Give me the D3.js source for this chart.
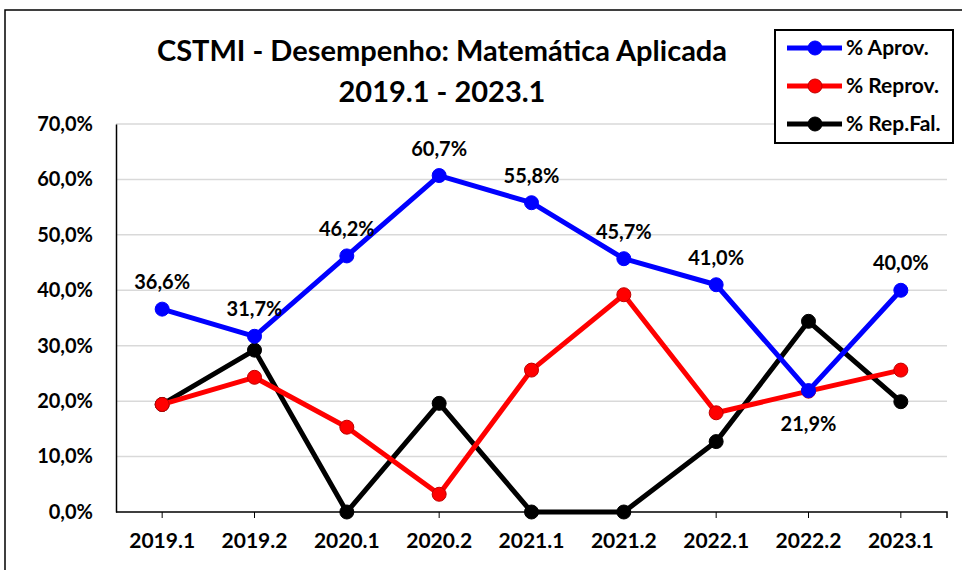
<!DOCTYPE html>
<html>
<head>
<meta charset="utf-8">
<script src="https://cdn.jsdelivr.net/npm/d3@7"></script>
<style>
  body { margin: 0; background: #fff; }
  svg text { font-family: Lato, "Open Sans", sans-serif; font-weight: bold; fill: #000; }
</style>
</head>
<body>
<div id="chart"></div>
<script>
var periods = ["2019.1", "2019.2", "2020.1", "2020.2", "2021.1", "2021.2", "2022.1", "2022.2", "2023.1"];
var aprov   = [36.6, 31.7, 46.2, 60.7, 55.8, 45.7, 41.0, 21.9, 40.0];
var reprov  = [19.4, 24.3, 15.3, 3.2, 25.6, 39.2, 17.9, 21.8, 25.6];
var repFal  = [19.4, 29.2, 0, 19.6, 0, 0, 12.7, 34.4, 19.9];
var yTicks  = [0, 10, 20, 30, 40, 50, 60, 70];
var titleLines = ["CSTMI - Desempenho: Matemática Aplicada", "2019.1 - 2023.1"];

var series = [
  {name: "% Rep.Fal.", values: repFal, color: "#000000", edge: "#000000"},
  {name: "% Reprov.", values: reprov, color: "#ff0000", edge: "#c00000"},
  {name: "% Aprov.", values: aprov, color: "#0000ff", edge: "#0000ff"}
];

var W = 962, H = 570,
    margin = {top: 124, right: 15, bottom: 58, left: 116},
    width = 947 - margin.left,
    height = 512 - margin.top;

var fmt = function(v) { return v.toFixed(1).replace(".", ",") + "%"; };

var svg = d3.select("#chart").append("svg")
    .attr("width", W).attr("height", H);

// chart frame
svg.append("rect")
    .attr("x", 5).attr("y", 10).attr("width", W + 10).attr("height", H + 10)
    .attr("fill", "#fff").attr("stroke", "#000").attr("stroke-width", 1.5);

var x = d3.scaleBand().domain(periods).range([0, width]);
var y = d3.scaleLinear().domain([0, 70]).range([height, 0]);
var cx = function(i) { return x(periods[i]) + x.bandwidth() / 2; };

var g = svg.append("g").attr("transform", "translate(" + margin.left + "," + margin.top + ")");

// gridlines
g.append("g").selectAll("line").data(yTicks.slice(1)).join("line")
    .attr("x1", 0).attr("x2", width)
    .attr("y1", d => y(d)).attr("y2", d => y(d))
    .attr("stroke", "#d9d9d9").attr("stroke-width", 1.5);

// y axis
var yAxis = d3.axisLeft(y).tickValues(yTicks).tickSize(0).tickPadding(23).tickFormat(d => fmt(d));
g.append("g").call(yAxis)
  .call(s => s.select(".domain").attr("stroke", "#000").attr("stroke-width", 1.5))
  .selectAll("text").style("font-size", "20px");

// x axis
var xAxis = d3.axisBottom(x).tickSize(6).tickPadding(15);
var xg = g.append("g").attr("transform", "translate(0," + height + ")").call(xAxis);
xg.select(".domain").attr("d", "M0,0H" + width + "V6").attr("stroke", "#000").attr("stroke-width", 1.5);
xg.selectAll("line").attr("stroke", "#000").attr("stroke-width", 1);
xg.selectAll("text").style("font-size", "21px");

// lines
var line = d3.line().x((d, i) => cx(i)).y(d => y(d));
series.forEach(function(s) {
  g.append("path").datum(s.values)
      .attr("d", line).attr("fill", "none")
      .attr("stroke", s.color).attr("stroke-width", 5)
      .attr("stroke-linejoin", "round");
  g.append("g").selectAll("circle").data(s.values).join("circle")
      .attr("cx", (d, i) => cx(i)).attr("cy", d => y(d)).attr("r", 7)
      .attr("fill", s.color).attr("stroke", s.edge).attr("stroke-width", 1);
});

// data labels for % Aprov.
g.append("g").selectAll("text").data(aprov).join("text")
    .attr("x", (d, i) => cx(i))
    .attr("y", (d, i) => i === 7 ? y(d) + 33 : y(d) - 27)
    .attr("dy", "0.35em")
    .attr("text-anchor", "middle")
    .style("font-size", "20px")
    .text(d => fmt(d));

// title
svg.append("g").selectAll("text").data(titleLines).join("text")
    .attr("x", 442).attr("y", (d, i) => 51 + i * 41)
    .attr("dy", "0.35em").attr("text-anchor", "middle")
    .style("font-size", "29px")
    .text(d => d);

// legend
var legend = svg.append("g").attr("transform", "translate(775,30)");
legend.append("rect").attr("width", 178).attr("height", 113)
    .attr("fill", "#fff").attr("stroke", "#000").attr("stroke-width", 2);
var items = legend.selectAll("g.item").data(series.slice().reverse()).join("g")
    .attr("class", "item")
    .attr("transform", (d, i) => "translate(0," + (18 + i * 38) + ")");
items.append("line").attr("x1", 12).attr("x2", 67)
    .attr("stroke", d => d.color).attr("stroke-width", 5);
items.append("circle").attr("cx", 40).attr("r", 7)
    .attr("fill", d => d.color).attr("stroke", d => d.edge);
items.append("text").attr("x", 71).attr("dy", "0.35em")
    .style("font-size", "21px").text(d => d.name);
</script>
</body>
</html>
